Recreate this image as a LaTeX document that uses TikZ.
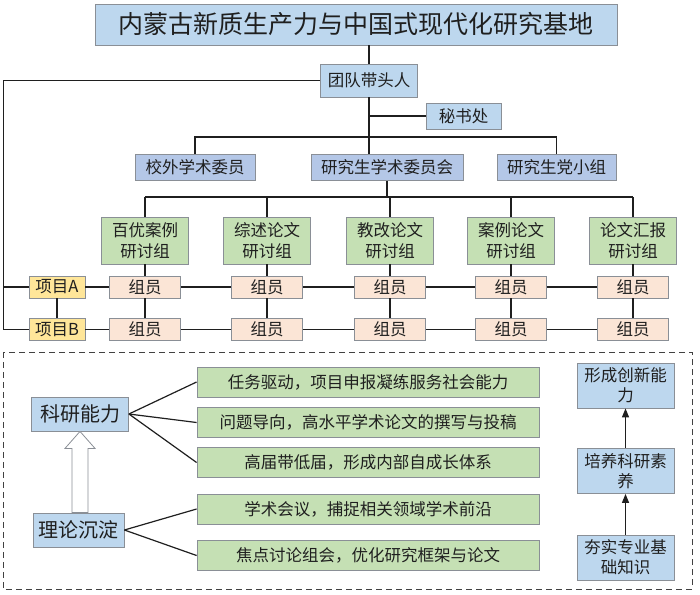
\documentclass[tikz,border=0pt]{standalone}
\usepackage{fontspec}
\setmainfont{Noto Sans CJK SC}
\usepackage{tikz}
\usetikzlibrary{arrows.meta,calc}
\definecolor{orgink}{HTML}{1F1F1F}
\definecolor{orgrule}{HTML}{8A8F96}
\definecolor{orgsky}{HTML}{BDD7EE}
\definecolor{orgblue}{HTML}{B4C7E7}
\definecolor{orggreen}{HTML}{C5E0B4}
\definecolor{orgpeach}{HTML}{FBE5D6}
\definecolor{orgyellow}{HTML}{FFE699}

\begin{document}
\begin{tikzpicture}[
  x=1pt, y=-1pt,
  font=\fontsize{16.5}{20}\selectfont, text=orgink,
  box/.style={draw=orgrule, line width=0.8pt, inner sep=0pt, align=center},
  lead/.style={box, fill=orgsky},
  comm/.style={box, fill=orgblue, minimum height=26pt},
  grp/.style={box, fill=orggreen, minimum width=87pt, minimum height=47pt, font=\fontsize{16.5}{21}\selectfont},
  mem/.style={box, fill=orgpeach, minimum width=71pt, minimum height=22pt},
  proj/.style={box, fill=orgyellow, minimum width=56pt, minimum height=22pt},
  ability/.style={box, fill=orgsky, minimum height=34pt, font=\fontsize{20}{24}\selectfont},
  way/.style={box, fill=orggreen, minimum width=342pt, minimum height=30pt},
  goal/.style={box, fill=orgsky, minimum width=97pt, minimum height=45pt, font=\fontsize{16.5}{20}\selectfont},
  wire/.style={line width=1.2pt, orgink},
  tip/.style={-{Triangle[length=9pt,width=7pt]}},
]
  \useasboundingbox (0,0) rectangle (700,594);
  \node[lead, minimum width=522pt, minimum height=41pt, font=\fontsize{25}{30}\selectfont] (title) at (356,24.5)
    {内蒙古新质生产力与中国式现代化研究基地};
  \node[lead, minimum width=97pt, minimum height=33pt] (leader) at (369,80.5) {团队带头人};
  \node[lead, minimum width=75pt, minimum height=26pt] (office) at (463.5,116) {秘书处};
  \node[comm, minimum width=120pt] (outer) at (195,167.5) {校外学术委员};
  \node[comm, minimum width=152pt] (council) at (387,167.5) {研究生学术委员会};
  \node[comm, minimum width=119pt] (party) at (556.5,167.5) {研究生党小组};
  \coordinate (bus1) at (0,137);
  \coordinate (bus2) at (0,197);
  \coordinate (rail) at (3.5,0);
  \draw[wire] (leader.north) -- (leader.north |- title.south);
  \draw[wire] (leader.south) -- (leader.south |- council.north);
  \draw[wire] (office.west) -- (office.west -| leader.south);
  \draw[wire] (outer.north) -- (outer.north |- bus1) -- (party.north |- bus1) -- (party.north);
  \draw[wire] (council.south) -- (council.south |- bus2);
  \node[proj] (pA) at (57,287) {项目A};
  \node[proj] (pB) at (57,329.5) {项目B};
  \foreach \k/\x/\t in {1/145/百优案例, 2/267/综述论文, 3/390/教改论文, 4/511/案例论文, 5/633/论文汇报} {
    \node[grp] (g\k) at (\x,240.5) {\t\\研讨组};
    \node[mem] (a\k) at (\x,287) {组员};
    \node[mem] (b\k) at (\x,329.5) {组员};
    \draw[wire] (g\k.north) -- (g\k.north |- bus2);
    \draw[wire] (g\k) -- (a\k);
    \draw[wire] (a\k) -- (b\k);
  }
  \draw[wire] (g1.north |- bus2) -- (g5.north |- bus2);
  \draw[wire] (pA) -- (a1);
  \draw[wire] (pB) -- (b1);
  \foreach \i/\j in {1/2, 2/3, 3/4, 4/5} {
    \draw[wire] (a\i) -- (a\j);
    \draw[wire] (b\i) -- (b\j);
  }
  \draw[wire] (pA) -- (pB);
  \draw[wire] (leader.west) -- (leader.west -| rail) -- (pB.west -| rail) -- (pB.west);
  \draw[wire] (pA.west -| rail) -- (pA.west);

  \draw[line width=1pt, orgink!85, dash pattern=on 6pt off 4pt] (3,352) rectangle (692,589);
  \node[ability, minimum width=97pt] (skill) at (80,414) {科研能力};
  \node[ability, minimum width=91pt] (theory) at (78.5,530) {理论沉淀};
  \foreach \k/\y/\t in {1/382/任务驱动，项目申报凝练服务社会能力, 2/422.5/问题导向，高水平学术论文的撰写与投稿,
      3/462.5/高届带低届，形成内部自成长体系, 4/509/学术会议，捕捉相关领域学术前沿, 5/555.5/焦点讨论组会，优化研究框架与论文}
    \node[way] (w\k) at (368,\y) {\t};
  \foreach \k in {1,2,3} \draw[wire] (skill.east) -- (w\k.west);
  \foreach \k in {4,5} \draw[wire] (theory.east) -- (w\k.west);
  \coordinate (head) at (skill.south);
  \coordinate (tail) at (skill.south |- theory.north);
  \draw[orgrule, fill=white, line width=0.8pt] (head) -- ($(head)+(15pt,-17pt)$) -- ($(head)+(8pt,-17pt)$)
    -- ($(tail)+(8pt,0pt)$) -- ($(tail)+(-8pt,0pt)$) -- ($(head)+(-8pt,-17pt)$) -- ($(head)+(-15pt,-17pt)$) -- cycle;
  \node[goal] (innov) at (625.5,385.5) {形成创新能\\力};
  \node[goal] (literacy) at (625.5,471) {培养科研素\\养};
  \node[goal] (basis) at (625.5,557.5) {夯实专业基\\础知识};
  \draw[wire, tip] (basis) -- (literacy);
  \draw[wire, tip] (literacy) -- (innov);
\end{tikzpicture}
\end{document}
